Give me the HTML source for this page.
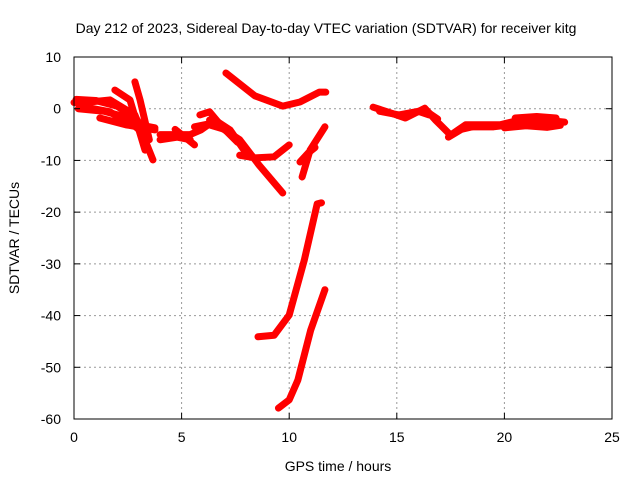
<!DOCTYPE html>
<html><head><meta charset="utf-8"><style>
body{margin:0;background:#fff}
svg{display:block;font-family:"Liberation Sans",sans-serif}
</style></head><body>
<svg id="chart" width="640" height="480">
<text x="326" y="33" font-size="14" text-anchor="middle">Day 212 of 2023, Sidereal Day-to-day VTEC variation (SDTVAR) for receiver kitg</text>
<text x="338" y="471" font-size="14" text-anchor="middle">GPS time / hours</text>
<text transform="translate(19,238) rotate(-90)" font-size="14" text-anchor="middle">SDTVAR / TECUs</text>
<g id="grid"></g><g id="series"></g><g id="axes"></g>
</svg>
<script>
const xTicks=[0,5,10,15,20,25];
const yTicks=[10,0,-10,-20,-30,-40,-50,-60];
const trackX=[
[7.06,8.4,9.7,10.5,11.4,11.7],
[6.3,7.7,8.6,9.7],
[7.7,8.4,9.3,10],
[8.55,9.3,10.0,10.7,11.3,11.5],
[9.5,10,10.4,11,11.66],
[10.6,10.97,11.66],
[10.5,10.9,11.2],
[0.0,0.28,1.67,2.83,3.67],
[0.28,1.67,2.4,3.76],
[1.9,2.6,3.3],
[2.83,3.07,3.5],
[1.2,2.4,3.76],
[0.1,1.0,2.0,2.9,3.4],
[0.2,1.4,2.3,3.0],
[4.0,5.4,5.9,6.55,7.25,7.9],
[4.0,4.8,5.4],
[5.85,6.3,6.8],
[5.6,6.2,7.0,7.6],
[4.7,5.6],
[13.9,14.7,15.4,16.3,16.8,17.5,18.2,18.9,19.8,20.7,21.9,22.8],
[14.2,15.1,16.0,16.5],
[15.5,16.3,16.9],
[17.4,18.0,18.5],
[18.5,19.5,20.5,21.5,22.6],
[20,21,22,22.6],
[20.5,21.5,22.4]
];
const trackY=[
[6.9,2.5,0.5,1.3,3.2,3.2],
[-2.2,-6,-10.9,-16.3],
[-9,-9.5,-9.3,-7],
[-44.1,-43.8,-39.9,-29.3,-18.4,-18.2],
[-57.9,-56.3,-52.5,-42.8,-35],
[-13.2,-8,-3.5],
[-10.3,-8.5,-7.5],
[1.2,1.1,1.7,-1.2,-9.9],
[0.5,-0.6,-2.6,-3.7],
[3.6,1.7,-8],
[5.2,1.7,-6],
[-1.8,-3.1,-4.1],
[1.8,1.6,0.5,-2.0,-5.0],
[0.0,-0.5,-1.5,-4.0],
[-5,-5,-4.1,-2.2,-4.1,-8],
[-6,-5.5,-6],
[-1.2,-0.6,-3.1],
[-3.5,-3.0,-4.0,-6.5],
[-4,-7],
[0.3,-0.8,-1.8,0.1,-2.2,-5.1,-3.1,-3.1,-3.1,-2.2,-2.2,-2.6],
[-0.5,-1.2,-0.5,-1.2],
[-1.0,-0.3,-2.0],
[-5.5,-4.0,-3.5],
[-3.5,-3.5,-3.0,-2.8,-3.0],
[-3.7,-3.3,-3.6,-3.2],
[-1.8,-1.5,-1.8]
];
const L=74,R=612,T=57,B=419;
const sx=v=>L+(v-0)/25*(R-L);
const sy=v=>T+(10-v)/70*(B-T);
const NS='http://www.w3.org/2000/svg';
const mk=(t,a,p)=>{const e=document.createElementNS(NS,t);for(const k in a)e.setAttribute(k,a[k]);p.appendChild(e);return e;};
const grid=document.getElementById('grid'),axes=document.getElementById('axes'),ser=document.getElementById('series');
xTicks.forEach(v=>{
 if(v>0&&v<25){const g=mk('line',{x1:sx(v),x2:sx(v),y1:T,y2:B,stroke:'#999','stroke-dasharray':'2,3'},grid);
 
 }
 mk('line',{x1:sx(v),x2:sx(v),y1:B,y2:B-6,stroke:'#000'},axes);
 mk('line',{x1:sx(v),x2:sx(v),y1:T,y2:T+6,stroke:'#000'},axes);
 const t=mk('text',{x:sx(v),y:B+23,'font-size':14,'text-anchor':'middle'},axes);t.textContent=v;
 
 
});
yTicks.forEach(v=>{
 if(v<10&&v>-60){const g=mk('line',{x1:L,x2:R,y1:sy(v),y2:sy(v),stroke:'#999','stroke-dasharray':'2,3'},grid);
 
 }
 mk('line',{x1:L,x2:L+6,y1:sy(v),y2:sy(v),stroke:'#000'},axes);
 mk('line',{x1:R,x2:R-6,y1:sy(v),y2:sy(v),stroke:'#000'},axes);
 const t=mk('text',{x:L-13,y:sy(v)+5,'font-size':14,'text-anchor':'end'},axes);t.textContent=v;
 
 
});
const fr=mk('rect',{x:L,y:T,width:R-L,height:B-T,fill:'none',stroke:'#000'},axes);


trackX.forEach((xs,i)=>{
 const pts=xs.map((x,j)=>sx(x)+','+sy(trackY[i][j])).join(' ');
 const p=mk('polyline',{points:pts,fill:'none',stroke:'#f00','stroke-width':7,'stroke-linejoin':'round','stroke-linecap':'round'},ser);
 
 
});
</script>
</body></html>
